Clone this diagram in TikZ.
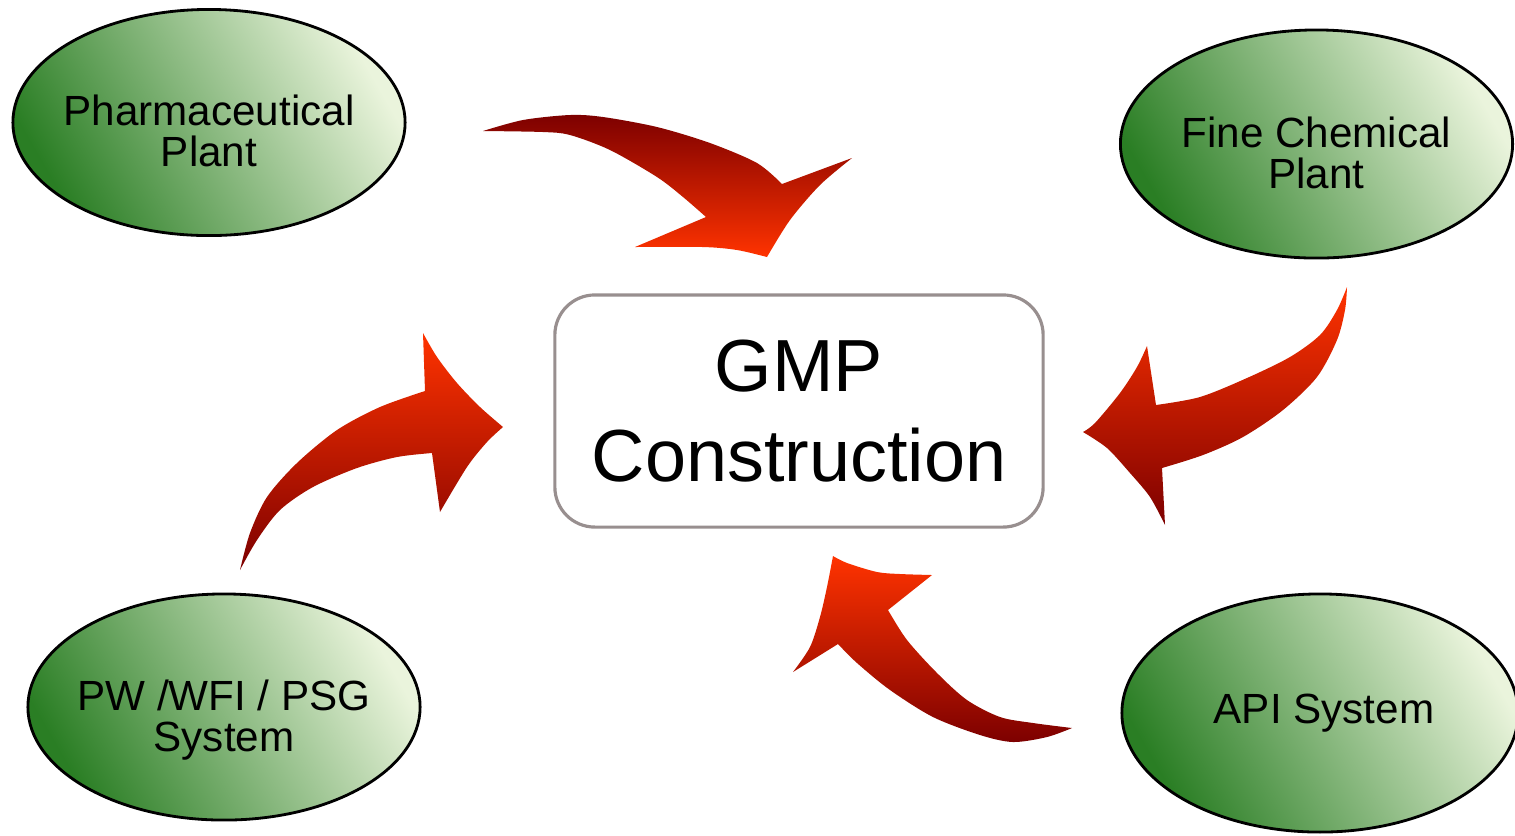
\documentclass[tikz,border=0pt]{standalone}
\usepackage{fontspec}
\setmainfont{Liberation Sans}
\usetikzlibrary{shapes.geometric}
\definecolor{bubbledark}{RGB}{42,126,36}
\definecolor{bubblemid}{RGB}{160,193,116}
\definecolor{bubblelight}{RGB}{234,244,220}
\definecolor{arrowdark}{RGB}{125,0,0}
\definecolor{arrowbright}{RGB}{255,51,0}
\definecolor{boxgray}{RGB}{152,143,143}
\tikzset{
  bubble/.style={ellipse,draw=black,line width=0.8pt,minimum width=3.92cm,minimum height=2.26cm,
    top color=bubbledark,middle color=bubblemid,bottom color=bubblelight,shading angle=120},
  bubbletext/.style={align=center,inner sep=0pt,font=\fontsize{12}{11.7}\selectfont},
  mainbox/.style={draw=boxgray,line width=0.9pt,rounded corners=0.4cm,fill=white,
    minimum width=4.88cm,minimum height=2.32cm,align=center,font=\fontsize{21}{25.6}\selectfont},
  arrowup/.style={top color=arrowbright,bottom color=arrowdark},
  arrowdown/.style={top color=arrowdark,bottom color=arrowbright}
}
\begin{document}
\begin{tikzpicture}[x=0.01cm,y=-0.01cm]
                \useasboundingbox (0,0) rectangle (1515,835);
                \clip (0,0) rectangle (1515,835);
                %% sources
                \node[bubble] (pharma) at (209,122.5) {};
                \node[bubble,minimum height=2.28cm] (finechem) at (1316.5,144) {};
                \node[bubble] (water) at (224,707) {};
                \node[bubble,minimum width=3.96cm,minimum height=2.38cm] (api) at (1320,713) {};
                %% labels
                \node[bubbletext] (pharmatext) at ([yshift=-0.085cm]pharma.center) {Pharmaceutical\\Plant};
                \node[bubbletext] (finechemtext) at ([yshift=-0.09cm]finechem.center) {Fine Chemical\\Plant};
                \node[bubbletext] (watertext) at ([yshift=-0.13cm]water.center) {PW /WFI / PSG\\System};
                \node[bubbletext] (apitext) at ([xshift=0.04cm]api.center) {API System};
                %% centre
                \node[mainbox] (gmp) at (799,411) {GMP\\Construction};
                %% arrows
                \shade[arrowdown]
                  plot[smooth] coordinates {(483,131) (523,120) (570,115) (603,117) (657,127) (710,143) (757,163) (782,184)}
                  -- (852,158)
                  -- plot[smooth] coordinates {(852,158) (820,185) (790,220) (767,257)}
                  -- plot[smooth] coordinates {(767,257) (737,250) (703,247) (635,247)}
                  -- (706,217)
                  -- plot[smooth] coordinates {(706,217) (683,197) (657,177) (610,150) (570,135) (543,132) (483,131)} -- cycle;
                \shade[arrowup]
                  plot[smooth] coordinates {(1347,287) (1345,310) (1337,340) (1317,377) (1283,410) (1243,437) (1203,455) (1162,468)}
                  -- (1165,525)
                  -- plot[smooth] coordinates {(1165,525) (1150,497) (1130,473) (1107,448) (1083,432)}
                  -- plot[smooth] coordinates {(1083,432) (1095,423) (1120,393) (1137,367) (1147,346)}
                  -- (1156,405)
                  -- plot[smooth] coordinates {(1156,405) (1200,397) (1247,378) (1290,357) (1320,335) (1337,310) (1347,287)} -- cycle;
                \shade[arrowup]
                  plot[smooth] coordinates {(240,570) (250,533) (267,497) (297,463) (337,430) (380,407) (425,391)}
                  -- (423,333)
                  -- plot[smooth] coordinates {(423,333) (437,357) (457,383) (480,407) (503,427)}
                  -- plot[smooth] coordinates {(503,427) (487,442) (467,467) (440,512)}
                  -- (432,453)
                  -- plot[smooth] coordinates {(432,453) (397,457) (357,468) (313,487) (280,510) (257,540) (240,570)} -- cycle;
                \shade[arrowup]
                  plot[smooth] coordinates {(1072,728) (1047,737) (1013,742) (980,735) (933,717) (890,690) (857,663) (838,644)}
                  -- (793,672)
                  -- plot[smooth] coordinates {(793,672) (810,647) (820,617) (827,587) (833,556)}
                  -- plot[smooth] coordinates {(833,556) (847,563) (877,572) (900,574) (932,575)}
                  -- (888,610)
                  -- plot[smooth] coordinates {(888,610) (907,640) (937,673) (967,700) (1000,717) (1033,723) (1072,728)} -- cycle;
            \end{tikzpicture}
\end{document}
